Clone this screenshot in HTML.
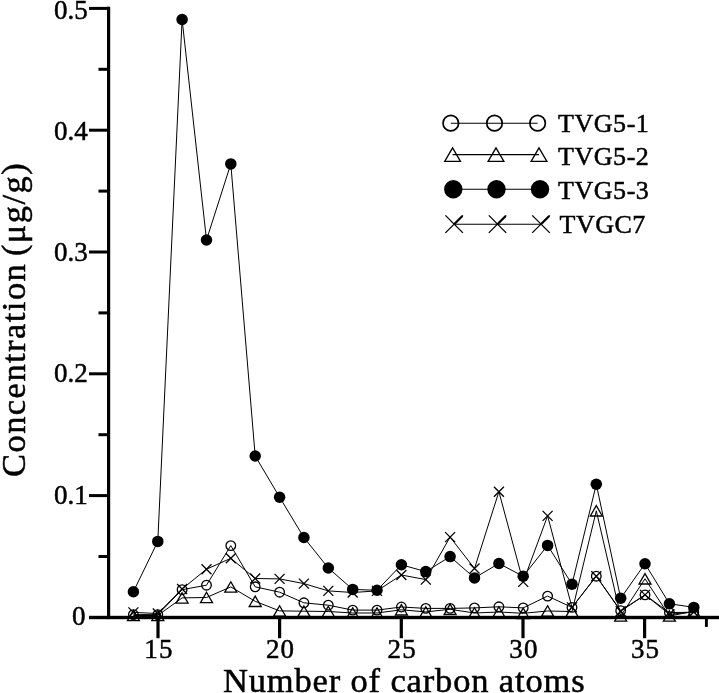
<!DOCTYPE html>
<html><head><meta charset="utf-8"><title>chart</title>
<style>
html,body{margin:0;padding:0;background:#fff;}
body{width:719px;height:693px;overflow:hidden;font-family:"Liberation Serif",serif;}
svg{display:block}
text{font-family:"Liberation Serif",serif;fill:#000;stroke:#000;stroke-width:0.5px}
svg{filter:grayscale(1)}
</style></head><body>
<svg width="719" height="693" viewBox="0 0 719 693">
<rect width="719" height="693" fill="#fff"/>

<g stroke="#000" stroke-width="1.0" fill="none" stroke-linejoin="round">
<polyline points="133.4,614.6 157.8,614.6 182.1,589.7 206.5,585.2 230.8,545.6 255.2,586.8 279.6,592.2 303.9,602.8 328.3,605.2 352.7,610.1 377.0,610.1 401.4,607.0 425.8,608.4 450.1,608.4 474.5,607.9 498.9,606.8 523.2,607.9 547.6,596.1 572.0,607.4 596.3,576.2 620.7,610.7 645.0,594.9 669.4,612.6 693.8,612.2"/>
<polyline points="133.4,615.5 157.8,615.5 182.1,597.9 206.5,597.5 230.8,586.9 255.2,601.3 279.6,610.9 303.9,611.2 328.3,611.5 352.7,613.0 377.0,613.0 401.4,609.8 425.8,611.9 450.1,609.3 474.5,613.0 498.9,612.0 523.2,613.3 547.6,611.0 572.0,611.5 596.3,510.8 620.7,616.0 645.0,578.8 669.4,616.0 693.8,611.3"/>
<polyline points="133.4,591.7 157.8,541.4 182.1,19.5 206.5,240.0 230.8,163.9 255.2,456.0 279.6,497.2 303.9,537.5 328.3,568.0 352.7,589.4 377.0,590.3 401.4,564.8 425.8,571.6 450.1,556.6 474.5,577.9 498.9,563.5 523.2,576.3 547.6,545.4 572.0,584.2 596.3,484.3 620.7,598.3 645.0,563.7 669.4,603.7 693.8,607.4"/>
<polyline points="133.4,612.4 157.8,613.5 182.1,589.0 206.5,569.2 230.8,558.3 255.2,578.5 279.6,578.9 303.9,583.6 328.3,590.9 352.7,592.5 377.0,590.9 401.4,575.0 425.8,579.6 450.1,537.1 474.5,568.5 498.9,491.7 523.2,581.9 547.6,515.9 572.0,607.4 596.3,576.2 620.7,611.2 645.0,594.9 669.4,614.3 693.8,612.0"/>
</g>
<g stroke="#000" stroke-width="1.3">
<path d="M133.4 610.3L139.4 620.7L127.4 620.7Z" fill="none"/>
<path d="M157.8 610.3L163.8 620.7L151.8 620.7Z" fill="none"/>
<path d="M182.1 592.7L188.1 603.1L176.1 603.1Z" fill="none"/>
<path d="M206.5 592.3L212.5 602.7L200.5 602.7Z" fill="none"/>
<path d="M230.8 581.7L236.8 592.1L224.8 592.1Z" fill="none"/>
<path d="M255.2 596.1L261.2 606.5L249.2 606.5Z" fill="none"/>
<path d="M279.6 605.7L285.6 616.1L273.6 616.1Z" fill="none"/>
<path d="M303.9 606.0L309.9 616.4L297.9 616.4Z" fill="none"/>
<path d="M328.3 606.3L334.3 616.7L322.3 616.7Z" fill="none"/>
<path d="M352.7 607.8L358.7 618.2L346.7 618.2Z" fill="none"/>
<path d="M377.0 607.8L383.0 618.2L371.0 618.2Z" fill="none"/>
<path d="M401.4 604.6L407.4 615.0L395.4 615.0Z" fill="none"/>
<path d="M425.8 606.7L431.8 617.1L419.8 617.1Z" fill="none"/>
<path d="M450.1 604.1L456.1 614.5L444.1 614.5Z" fill="none"/>
<path d="M474.5 607.8L480.5 618.2L468.5 618.2Z" fill="none"/>
<path d="M498.9 606.8L504.9 617.2L492.9 617.2Z" fill="none"/>
<path d="M523.2 608.1L529.2 618.5L517.2 618.5Z" fill="none"/>
<path d="M547.6 605.8L553.6 616.2L541.6 616.2Z" fill="none"/>
<path d="M572.0 606.3L578.0 616.7L566.0 616.7Z" fill="none"/>
<path d="M596.3 505.6L602.3 516.0L590.3 516.0Z" fill="none"/>
<path d="M620.7 610.8L626.7 621.2L614.7 621.2Z" fill="none"/>
<path d="M645.0 573.6L651.0 584.0L639.0 584.0Z" fill="none"/>
<path d="M669.4 610.8L675.4 621.2L663.4 621.2Z" fill="none"/>
<path d="M693.8 606.1L699.8 616.5L687.8 616.5Z" fill="none"/>
<circle cx="133.4" cy="614.6" r="4.8" fill="none"/>
<circle cx="157.8" cy="614.6" r="4.8" fill="none"/>
<circle cx="182.1" cy="589.7" r="4.8" fill="none"/>
<circle cx="206.5" cy="585.2" r="4.8" fill="none"/>
<circle cx="230.8" cy="545.6" r="4.8" fill="none"/>
<circle cx="255.2" cy="586.8" r="4.8" fill="none"/>
<circle cx="279.6" cy="592.2" r="4.8" fill="none"/>
<circle cx="303.9" cy="602.8" r="4.8" fill="none"/>
<circle cx="328.3" cy="605.2" r="4.8" fill="none"/>
<circle cx="352.7" cy="610.1" r="4.8" fill="none"/>
<circle cx="377.0" cy="610.1" r="4.8" fill="none"/>
<circle cx="401.4" cy="607.0" r="4.8" fill="none"/>
<circle cx="425.8" cy="608.4" r="4.8" fill="none"/>
<circle cx="450.1" cy="608.4" r="4.8" fill="none"/>
<circle cx="474.5" cy="607.9" r="4.8" fill="none"/>
<circle cx="498.9" cy="606.8" r="4.8" fill="none"/>
<circle cx="523.2" cy="607.9" r="4.8" fill="none"/>
<circle cx="547.6" cy="596.1" r="4.8" fill="none"/>
<circle cx="572.0" cy="607.4" r="4.8" fill="none"/>
<circle cx="596.3" cy="576.2" r="4.8" fill="none"/>
<circle cx="620.7" cy="610.7" r="4.8" fill="none"/>
<circle cx="645.0" cy="594.9" r="4.8" fill="none"/>
<circle cx="669.4" cy="612.6" r="4.8" fill="none"/>
<circle cx="693.8" cy="612.2" r="4.8" fill="none"/>
<path d="M128.4 607.4L138.4 617.4M128.4 617.4L138.4 607.4" fill="none"/>
<path d="M152.8 608.5L162.8 618.5M152.8 618.5L162.8 608.5" fill="none"/>
<path d="M177.1 584.0L187.1 594.0M177.1 594.0L187.1 584.0" fill="none"/>
<path d="M201.5 564.2L211.5 574.2M201.5 574.2L211.5 564.2" fill="none"/>
<path d="M225.8 553.3L235.8 563.3M225.8 563.3L235.8 553.3" fill="none"/>
<path d="M250.2 573.5L260.2 583.5M250.2 583.5L260.2 573.5" fill="none"/>
<path d="M274.6 573.9L284.6 583.9M274.6 583.9L284.6 573.9" fill="none"/>
<path d="M298.9 578.6L308.9 588.6M298.9 588.6L308.9 578.6" fill="none"/>
<path d="M323.3 585.9L333.3 595.9M323.3 595.9L333.3 585.9" fill="none"/>
<path d="M347.7 587.5L357.7 597.5M347.7 597.5L357.7 587.5" fill="none"/>
<path d="M372.0 585.9L382.0 595.9M372.0 595.9L382.0 585.9" fill="none"/>
<path d="M396.4 570.0L406.4 580.0M396.4 580.0L406.4 570.0" fill="none"/>
<path d="M420.8 574.6L430.8 584.6M420.8 584.6L430.8 574.6" fill="none"/>
<path d="M445.1 532.1L455.1 542.1M445.1 542.1L455.1 532.1" fill="none"/>
<path d="M469.5 563.5L479.5 573.5M469.5 573.5L479.5 563.5" fill="none"/>
<path d="M493.9 486.7L503.9 496.7M493.9 496.7L503.9 486.7" fill="none"/>
<path d="M518.2 576.9L528.2 586.9M518.2 586.9L528.2 576.9" fill="none"/>
<path d="M542.6 510.9L552.6 520.9M542.6 520.9L552.6 510.9" fill="none"/>
<path d="M567.0 602.4L577.0 612.4M567.0 612.4L577.0 602.4" fill="none"/>
<path d="M591.3 571.2L601.3 581.2M591.3 581.2L601.3 571.2" fill="none"/>
<path d="M615.7 606.2L625.7 616.2M615.7 616.2L625.7 606.2" fill="none"/>
<path d="M640.0 589.9L650.0 599.9M640.0 599.9L650.0 589.9" fill="none"/>
<path d="M664.4 609.3L674.4 619.3M664.4 619.3L674.4 609.3" fill="none"/>
<path d="M688.8 607.0L698.8 617.0M688.8 617.0L698.8 607.0" fill="none"/>
</g><g stroke="none">
<circle cx="133.4" cy="591.7" r="5.75" fill="#000"/>
<circle cx="157.8" cy="541.4" r="5.75" fill="#000"/>
<circle cx="182.1" cy="19.5" r="5.75" fill="#000"/>
<circle cx="206.5" cy="240.0" r="5.75" fill="#000"/>
<circle cx="230.8" cy="163.9" r="5.75" fill="#000"/>
<circle cx="255.2" cy="456.0" r="5.75" fill="#000"/>
<circle cx="279.6" cy="497.2" r="5.75" fill="#000"/>
<circle cx="303.9" cy="537.5" r="5.75" fill="#000"/>
<circle cx="328.3" cy="568.0" r="5.75" fill="#000"/>
<circle cx="352.7" cy="589.4" r="5.75" fill="#000"/>
<circle cx="377.0" cy="590.3" r="5.75" fill="#000"/>
<circle cx="401.4" cy="564.8" r="5.75" fill="#000"/>
<circle cx="425.8" cy="571.6" r="5.75" fill="#000"/>
<circle cx="450.1" cy="556.6" r="5.75" fill="#000"/>
<circle cx="474.5" cy="577.9" r="5.75" fill="#000"/>
<circle cx="498.9" cy="563.5" r="5.75" fill="#000"/>
<circle cx="523.2" cy="576.3" r="5.75" fill="#000"/>
<circle cx="547.6" cy="545.4" r="5.75" fill="#000"/>
<circle cx="572.0" cy="584.2" r="5.75" fill="#000"/>
<circle cx="596.3" cy="484.3" r="5.75" fill="#000"/>
<circle cx="620.7" cy="598.3" r="5.75" fill="#000"/>
<circle cx="645.0" cy="563.7" r="5.75" fill="#000"/>
<circle cx="669.4" cy="603.7" r="5.75" fill="#000"/>
<circle cx="693.8" cy="607.4" r="5.75" fill="#000"/>
</g>
<g fill="#000">
<rect x="107" y="6.7" width="3.2" height="612.4"/>
<rect x="89" y="615.8" width="630" height="3.4"/>
<rect x="98.5" y="555.0" width="10" height="3"/>
<rect x="89" y="494.1" width="19" height="3"/>
<rect x="98.5" y="433.2" width="10" height="3"/>
<rect x="89" y="372.3" width="19" height="3"/>
<rect x="98.5" y="311.4" width="10" height="3"/>
<rect x="89" y="250.5" width="19" height="3"/>
<rect x="98.5" y="189.6" width="10" height="3"/>
<rect x="89" y="128.7" width="19" height="3"/>
<rect x="98.5" y="67.8" width="10" height="3"/>
<rect x="89" y="6.9" width="19" height="3"/>
<rect x="156.4" y="617" width="3.2" height="21.2"/>
<rect x="278.0" y="617" width="3.2" height="21.2"/>
<rect x="399.7" y="617" width="3.2" height="21.2"/>
<rect x="521.4" y="617" width="3.2" height="21.2"/>
<rect x="643.0" y="617" width="3.2" height="21.2"/>
<rect x="704.95" y="617" width="2.9" height="9.9"/>
</g>
<g font-size="27">
<text x="85.6" y="625.0" text-anchor="end">0</text>
<text x="87.8" y="503.7" text-anchor="end">0.1</text>
<text x="87.8" y="382.4" text-anchor="end">0.2</text>
<text x="87.8" y="261.1" text-anchor="end">0.3</text>
<text x="87.8" y="139.8" text-anchor="end">0.4</text>
<text x="87.8" y="18.5" text-anchor="end">0.5</text>
<text x="159.0" y="658.3" letter-spacing="1.2" text-anchor="middle">15</text>
<text x="280.6" y="658.3" letter-spacing="1.2" text-anchor="middle">20</text>
<text x="402.3" y="658.3" letter-spacing="1.2" text-anchor="middle">25</text>
<text x="524.0" y="658.3" letter-spacing="1.2" text-anchor="middle">30</text>
<text x="645.6" y="658.3" letter-spacing="1.2" text-anchor="middle">35</text>
</g>
<text x="404.2" y="691.6" font-size="34.5" letter-spacing="0.85" text-anchor="middle">Number of carbon atoms</text>
<g transform="translate(25.3,0) rotate(-90)" font-size="34.5"><text x="-477.0" y="0" letter-spacing="1.45">Concentration</text><text x="-256.1" y="0" letter-spacing="1.45">(μg/g)</text></g>
<g stroke="#000" stroke-width="1.3" fill="none">
<path d="M450.8 123.2L537.6 123.2" stroke-width="1.1"/>
<circle cx="450.8" cy="123.2" r="7.75" stroke-width="1.7"/>
<circle cx="494.5" cy="123.2" r="7.75" stroke-width="1.7"/>
<circle cx="537.6" cy="123.2" r="7.75" stroke-width="1.7"/>
<path d="M452.6 154.6L539.0 154.6" stroke-width="1.1"/>
<path d="M452.6 147.8L460.5 161.4L444.7 161.4Z" fill="none"/>
<path d="M496.0 147.8L503.9 161.4L488.1 161.4Z" fill="none"/>
<path d="M539.0 147.8L546.9 161.4L531.1 161.4Z" fill="none"/>
<path d="M453.3 189.2L540.0 189.2" stroke-width="1.1"/>
<circle cx="453.3" cy="189.2" r="9.2" fill="#000" stroke="none"/>
<circle cx="496.5" cy="189.2" r="9.2" fill="#000" stroke="none"/>
<circle cx="540.0" cy="189.2" r="9.2" fill="#000" stroke="none"/>
<path d="M454.2 224.2L541.0 224.2" stroke-width="1.1"/>
<path d="M445.4 215.4L462.9 232.9M445.4 232.9L462.9 215.4" fill="none"/>
<path d="M454.2 224.2L462.4 216.0" stroke-width="2.2"/>
<path d="M488.8 215.4L506.2 232.9M488.8 232.9L506.2 215.4" fill="none"/>
<path d="M497.5 224.2L505.7 216.0" stroke-width="2.2"/>
<path d="M532.2 215.4L549.8 232.9M532.2 232.9L549.8 215.4" fill="none"/>
<path d="M541.0 224.2L549.2 216.0" stroke-width="2.2"/>
</g>
<g font-size="26">
<text x="558" y="132.1" letter-spacing="0.55">TVG5-1</text>
<text x="558" y="164.5" letter-spacing="0.55">TVG5-2</text>
<text x="558" y="198.5" letter-spacing="0.55">TVG5-3</text>
<text x="559.5" y="232.6" letter-spacing="0.5">TVGC7</text>
</g>
</svg></body></html>
